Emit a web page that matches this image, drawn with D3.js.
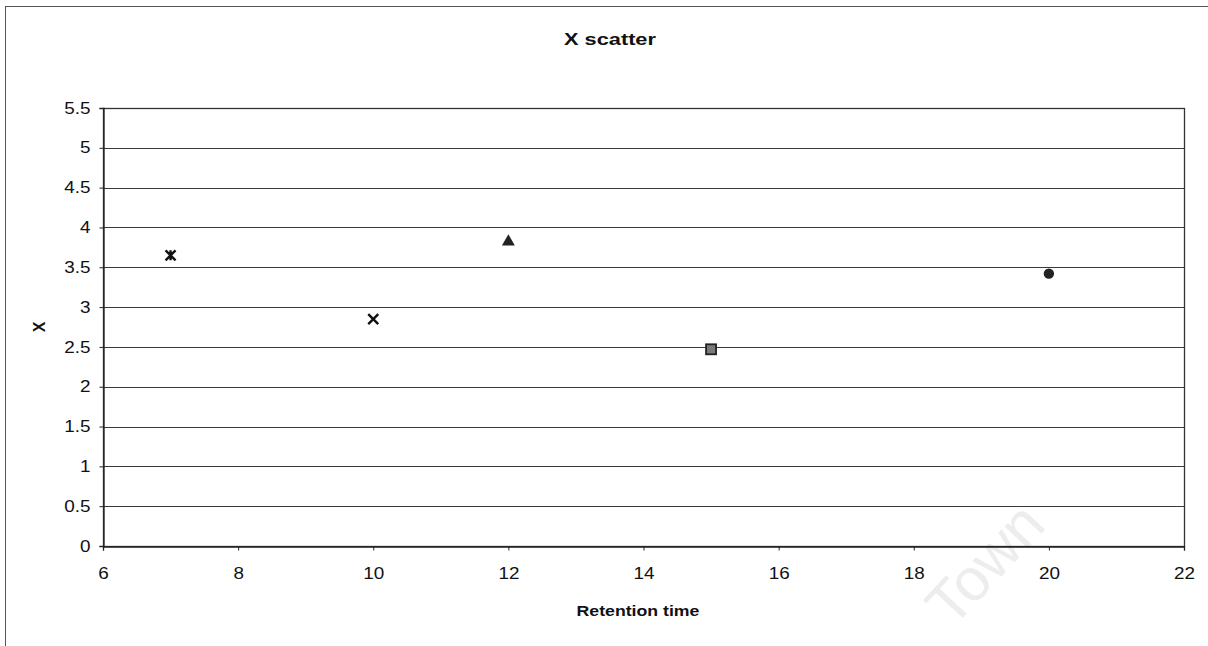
<!DOCTYPE html>
<html>
<head>
<meta charset="utf-8">
<script src="https://cdn.jsdelivr.net/npm/d3@7"></script>
<style>
  html, body { margin: 0; padding: 0; background: #fff; }
  svg { display: block; font-family: Arial, "Liberation Sans", sans-serif; }
</style>
</head>
<body>
<svg id="chart" width="1208" height="646"></svg>
<script>
// Retention time vs X, one marker style per compound
const retentionTimes = [7, 10, 12, 15, 20];
const xValues = [3.65, 2.85, 3.82, 2.47, 3.42];
const markerShapes = ["star", "cross", "triangle", "square", "circle"];
const xTicks = [6, 8, 10, 12, 14, 16, 18, 20, 22];
const yTicks = [0, 0.5, 1, 1.5, 2, 2.5, 3, 3.5, 4, 4.5, 5, 5.5];

const svg = d3.select("#chart");
const W = 1208, H = 646;
const plot = { left: 103, right: 1184, top: 108, bottom: 546 };
const WIDEN = 1.18; // horizontal stretch applied to all lettering

// stretch a text element horizontally about its own anchor point
function widen(sel, k) {
  sel.each(function () {
    const t = d3.select(this);
    const x0 = +t.attr("x") || 0;
    const y0 = +t.attr("y") || 0;
    t.attr("transform", `translate(${x0},${y0}) scale(${k},1) translate(${-x0},${-y0})`);
  });
}

// chart frame (runs past the right and bottom edges)
svg.append("rect")
  .attr("x", 5.5).attr("y", 6.5)
  .attr("width", W + 10).attr("height", H + 10)
  .attr("fill", "#fff").attr("stroke", "#555").attr("stroke-width", 1);

const x = d3.scaleLinear().domain([6, 22]).range([plot.left, plot.right]);
const y = d3.scaleLinear().domain([0, 5.5]).range([plot.bottom, plot.top]);

// faint watermark behind the plot
svg.append("text")
  .attr("transform", "translate(1000,578) rotate(-47)")
  .attr("text-anchor", "middle")
  .style("font-size", "60px")
  .attr("fill", "#ededed")
  .text("Town");

// horizontal gridlines
svg.append("g")
  .selectAll("line")
  .data(yTicks)
  .join("line")
  .attr("x1", plot.left).attr("x2", plot.right)
  .attr("y1", d => Math.round(y(d)) + 0.5).attr("y2", d => Math.round(y(d)) + 0.5)
  .attr("stroke", "#3a3a3a").attr("stroke-width", 1);

// plot area border
svg.append("rect")
  .attr("x", plot.left + 0.5).attr("y", plot.top + 0.5)
  .attr("width", plot.right - plot.left).attr("height", plot.bottom - plot.top)
  .attr("fill", "none").attr("stroke", "#333").attr("stroke-width", 1.3);

// axes
const xAxis = d3.axisBottom(x).tickValues(xTicks).tickSize(4).tickPadding(17)
  .tickFormat(d3.format("d"));
const yAxis = d3.axisLeft(y).tickValues(yTicks).tickSize(4).tickPadding(9)
  .tickFormat(d => String(d));

const gx = svg.append("g")
  .attr("transform", `translate(0,${Math.round(plot.bottom) + 0.5})`)
  .call(xAxis);
const gy = svg.append("g")
  .attr("transform", `translate(${plot.left + 0.5},0)`)
  .call(yAxis);

[gx, gy].forEach(g => {
  g.select(".domain").attr("stroke", "#222").attr("stroke-width", 1.3);
  g.selectAll(".tick line").attr("stroke", "#222");
  g.selectAll(".tick text")
    .attr("fill", "#111")
    .style("font-size", "16px")
    .style("font-family", "Arial, 'Liberation Sans', sans-serif")
    .call(widen, WIDEN);
});

// titles
svg.append("text")
  .attr("x", 610).attr("y", 45)
  .attr("text-anchor", "middle")
  .style("font-size", "17px").style("font-weight", "bold")
  .attr("fill", "#111")
  .text("X scatter")
  .call(widen, 1.28);

svg.append("text")
  .attr("x", 638).attr("y", 616)
  .attr("text-anchor", "middle")
  .style("font-size", "15px").style("font-weight", "bold")
  .attr("fill", "#111")
  .text("Retention time")
  .call(widen, WIDEN);

svg.append("text")
  .attr("transform", `translate(45,${(plot.top + plot.bottom) / 2}) rotate(-90)`)
  .attr("text-anchor", "middle")
  .style("font-size", "16px").style("font-weight", "bold")
  .attr("fill", "#111")
  .text("X");

// markers
const pts = retentionTimes.map((t, i) => ({ t, v: xValues[i], shape: markerShapes[i] }));
const mk = svg.append("g");
pts.forEach(p => {
  const g = mk.append("g").attr("transform", `translate(${x(p.t)},${y(p.v)})`);
  const s = 5;
  if (p.shape === "star") {
    g.append("path")
      .attr("d", `M${-s},${-s}L${s},${s}M${-s},${s}L${s},${-s}M0,${-s}L0,${s}`)
      .attr("stroke", "#111").attr("stroke-width", 2.4).attr("fill", "none");
  } else if (p.shape === "cross") {
    g.append("path")
      .attr("d", `M${-s},${-s}L${s},${s}M${-s},${s}L${s},${-s}`)
      .attr("stroke", "#111").attr("stroke-width", 2.4).attr("fill", "none");
  } else if (p.shape === "triangle") {
    g.append("path")
      .attr("d", d3.symbol(d3.symbolTriangle, 72)())
      .attr("fill", "#222");
  } else if (p.shape === "square") {
    g.append("rect")
      .attr("x", -5).attr("y", -5).attr("width", 10).attr("height", 10)
      .attr("fill", "#7a7a7a").attr("stroke", "#222").attr("stroke-width", 1.8);
  } else {
    g.append("path")
      .attr("d", d3.symbol(d3.symbolCircle, 85)())
      .attr("fill", "#222");
  }
});
</script>
</body>
</html>
